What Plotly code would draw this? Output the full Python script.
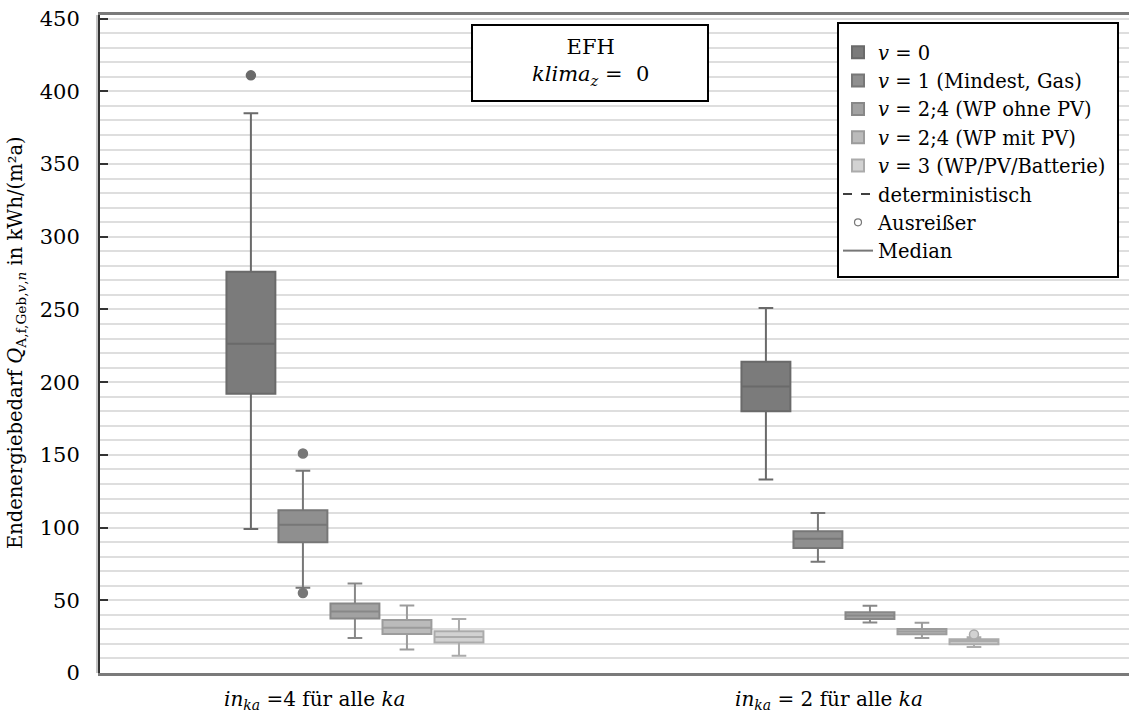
import plotly.graph_objects as go

# ---------------- data ----------------
groups = ["in_ka = 4", "in_ka = 2"]
variants = [
    "<i>v</i> = 0",
    "<i>v</i> = 1 (Mindest, Gas)",
    "<i>v</i> = 2;4 (WP ohne PV)",
    "<i>v</i> = 2;4 (WP mit PV)",
    "<i>v</i> = 3 (WP/PV/Batterie)",
]
# per variant: [group in_ka=4, group in_ka=2]
lowerfence = [[99, 133], [58.6, 76.5], [24.1, 34.7], [16.1, 24.1], [11.9, 17.9]]
q1 = [[192, 180], [90, 86], [37.4, 37.2], [26.9, 26.7], [20.9, 19.8]]
median = [[226.5, 197], [102, 92.3], [42.3, 39.5], [31.2, 28.5], [24.8, 21.8]]
q3 = [[276, 214], [112, 97.4], [47.8, 41.8], [36.5, 30.3], [28.7, 23.2]]
upperfence = [[385, 251], [139, 110], [61.5, 46.2], [46.4, 34.5], [37.2, 24.5]]
outliers = [[[411], []], [[151, 55], []], [[], []], [[], []], [[], [26.5]]]

# ---------------- styles ----------------
fills = ["#7b7b7b", "#8f8f8f", "#a2a2a2", "#bbbbbb", "#d2d2d2"]
lines = ["#6a6a6a", "#777777", "#888888", "#9c9c9c", "#ababab"]
FONT = "DejaVu Serif, Liberation Serif, serif"

step = 0.101
bw = 0.095

fig = go.Figure()
for i, name in enumerate(variants):
    xs = [g + (i - 2) * step for g in range(len(groups))]
    fig.add_trace(go.Box(
        x=xs, q1=q1[i], median=median[i], q3=q3[i],
        lowerfence=lowerfence[i], upperfence=upperfence[i],
        name=name, width=bw, whiskerwidth=0.3,
        fillcolor=fills[i], line=dict(color=lines[i], width=2),
        boxpoints=False, hoverinfo="skip",
    ))

for i in range(len(variants)):
    ox, oy = [], []
    for g in range(len(groups)):
        for v in outliers[i][g]:
            ox.append(g + (i - 2) * step)
            oy.append(v)
    if ox:
        light = i >= 3
        fig.add_trace(go.Scatter(
            x=ox, y=oy, mode="markers", showlegend=False,
            marker=dict(size=9,
                        color=fills[i] if light else lines[i],
                        line=dict(color=lines[i], width=1.5)),
            hoverinfo="skip",
        ))

# legend-only helpers
fig.add_trace(go.Scatter(x=[None], y=[None], mode="lines", name="deterministisch",
                         line=dict(color="black", width=1.5, dash="dash")))
fig.add_trace(go.Scatter(x=[None], y=[None], mode="markers", name="Ausreißer",
                         marker=dict(size=7, color="white", line=dict(color="#777777", width=1.2))))
fig.add_trace(go.Scatter(x=[None], y=[None], mode="lines", name="Median",
                         line=dict(color="#777777", width=2)))

W, H = 1129, 722
L, R, T, B = 100, 0, 15, 49
pw, ph = W - L - R, H - T - B

def px(x):
    return (x - L) / pw

def py(y):
    return (H - B - y) / ph

fig.update_layout(
    width=W, height=H,
    margin=dict(l=L, r=R, t=T, b=B),
    paper_bgcolor="white", plot_bgcolor="white",
    boxmode="overlay",
    font=dict(family=FONT, size=19, color="black"),
    showlegend=True,
    legend=dict(x=px(838), y=py(33), xanchor="left", yanchor="top",
                bgcolor="rgba(0,0,0,0)", borderwidth=0,
                font=dict(family=FONT, size=19.5, color="black"),
                itemwidth=30),
    xaxis=dict(range=[-0.495, 1.503], showgrid=False, zeroline=False,
               showticklabels=False, ticks="",
               showline=True, linecolor="#7a7a7a", linewidth=3, mirror=True),
    yaxis=dict(range=[0, 452.5], dtick=50, tick0=0,
               showgrid=True, gridcolor="#dedede", gridwidth=2,
               minor=dict(dtick=10, tick0=0, showgrid=True, gridcolor="#dedede", gridwidth=2),
               zeroline=False,
               ticks="inside", ticklen=8, tickwidth=2, tickcolor="#333333",
               showline=True, linecolor="#333333", linewidth=2,
               ticklabelstandoff=14,
               tickfont=dict(family=FONT, size=21, color="black")),
)

# light outer line of the left axis
fig.add_shape(type="line", xref="paper", yref="paper",
              x0=px(97), x1=px(97), y0=0, y1=1,
              line=dict(color="#b0b0b0", width=1.5))

# legend frame
fig.add_shape(type="rect", xref="paper", yref="paper",
              x0=px(838), x1=px(1118), y0=py(277), y1=py(23),
              line=dict(color="black", width=2), fillcolor="white", layer="above")

# info box
fig.add_shape(type="rect", xref="paper", yref="paper",
              x0=px(472), x1=px(708), y0=py(101), y1=py(25),
              line=dict(color="black", width=2), fillcolor="white", layer="above")
fig.add_annotation(xref="paper", yref="paper", x=px(590), y=py(62),
                   text="EFH<br><i>klima</i><sub><i>z</i></sub> =  0",
                   showarrow=False, xanchor="center", yanchor="middle",
                   font=dict(family=FONT, size=21, color="black"))

# y-axis title
fig.add_annotation(xref="paper", yref="paper", x=px(16), y=py(343),
                   text="Endenergiebedarf <i>Q</i><sub>A,f,Geb,<i>v</i>,<i>n</i></sub> in kWh/(m²a)",
                   textangle=-90, showarrow=False, xanchor="center", yanchor="middle",
                   font=dict(family=FONT, size=19.5, color="black"))

# group labels
glabels = ["<i>in</i><sub><i>ka</i></sub> =4 für alle <i>ka</i>",
           "<i>in</i><sub><i>ka</i></sub> = 2 für alle <i>ka</i>"]
for xc, t in zip([314, 829], glabels):
    fig.add_annotation(xref="paper", yref="paper", x=px(xc), y=py(700),
                       text=t, showarrow=False, xanchor="center", yanchor="middle",
                       font=dict(family=FONT, size=20, color="black"))

fig.write_html("out.html")
